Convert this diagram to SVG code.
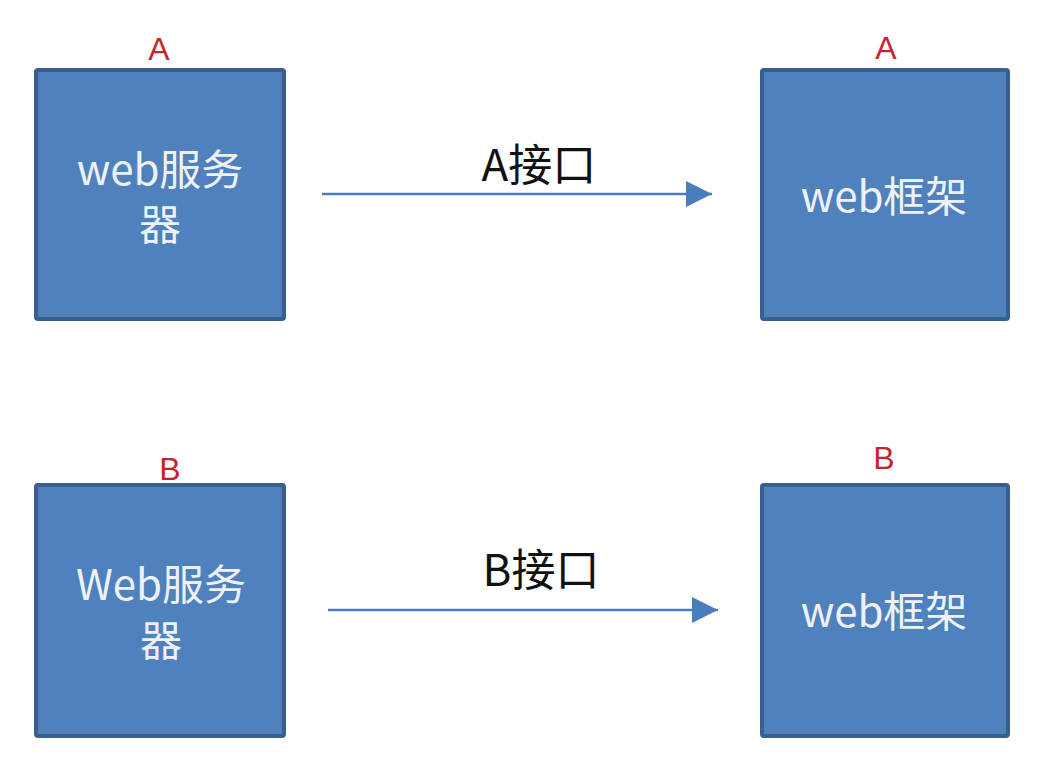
<svg xmlns="http://www.w3.org/2000/svg" width="1042" height="770" viewBox="0 0 1042 770">
<defs>
<style>
.box{fill:#4f81bd;stroke:#3a5f8f;stroke-width:4}
.t{font-family:"Microsoft YaHei","Noto Sans CJK SC","Noto Sans",sans-serif;fill:#eef2f8;text-anchor:middle;font-size:42px}
.lab{font-family:"Liberation Sans","Noto Sans CJK SC",sans-serif;fill:#c8232c;text-anchor:middle;font-size:32px}
.if{font-family:"Noto Sans CJK SC","Noto Sans",sans-serif;fill:#111;text-anchor:middle;font-size:44px}
.conn{stroke:#4a7ebb;stroke-width:2.5;fill:none}
</style>
<marker id="ah" viewBox="0 0 10 10" refX="10" refY="5" markerUnits="userSpaceOnUse" markerWidth="26" markerHeight="26" orient="auto">
<path d="M0,0 L10,5 L0,10 z" fill="#4a7ebb"/>
</marker>
</defs>
<rect width="1042" height="770" fill="#ffffff"/>
<g id="serverA">
<rect class="box" x="36" y="70" width="248" height="249" rx="2"/>
<text class="lab" x="159" y="60">A</text>
<text class="t" x="160" y="185">web服务</text>
<text class="t" x="160" y="240">器</text>
</g>
<g id="frameworkA">
<rect class="box" x="762" y="70" width="246" height="249" rx="2"/>
<text class="lab" x="886" y="59">A</text>
<text class="t" x="884" y="212">web框架</text>
</g>
<g id="serverB">
<rect class="box" x="36" y="485" width="248" height="251" rx="2"/>
<text class="lab" x="170" y="480">B</text>
<text class="t" x="161" y="600">Web服务</text>
<text class="t" x="161" y="656">器</text>
</g>
<g id="frameworkB">
<rect class="box" x="762" y="485" width="246" height="251" rx="2"/>
<text class="lab" x="884" y="469">B</text>
<text class="t" x="884" y="627">web框架</text>
</g>
<g id="connectors">
<line class="conn" x1="322" y1="194" x2="712" y2="194" marker-end="url(#ah)"/>
<text class="if" x="539" y="181">A接口</text>
<line class="conn" x1="328" y1="610" x2="718" y2="610" marker-end="url(#ah)"/>
<text class="if" x="541" y="586">B接口</text>
</g>
</svg>
